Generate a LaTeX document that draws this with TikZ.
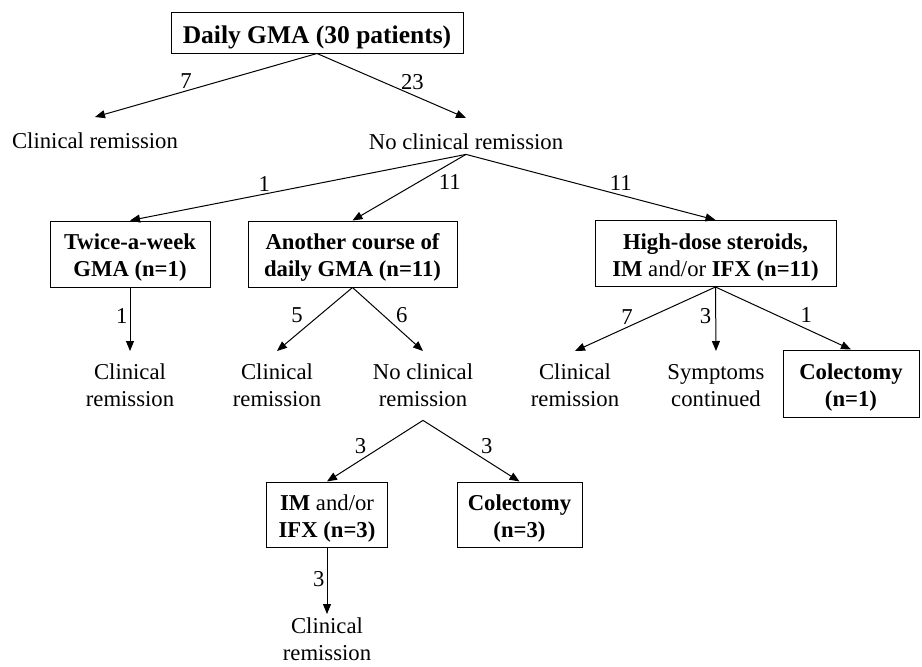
\documentclass[tikz,border=0pt]{standalone}
\usepackage{fontspec}
\setmainfont{Liberation Serif}
\usetikzlibrary{arrows.meta}
\usetikzlibrary{positioning}
\newcommand{\liftline}{\rule{0pt}{1.04em}}
\tikzset{%
  flowedge/.style={-{Triangle[length=10pt, width=8pt]}, line width=1pt},
  flowbox/.style={draw=black, line width=1pt, align=center, font=\bfseries, inner sep=0pt},
  flowtext/.style={align=center, inner xsep=0pt, inner ysep=13pt},
  flowline/.style={text height=26pt, text depth=0pt, inner xsep=0pt, inner ysep=5pt},
  numlabel/.style={inner sep=2pt}
}

\begin{document}
\begin{tikzpicture}[x=1pt, y=-1pt]
\fontsize{22.7}{27}\selectfont
\useasboundingbox (0,0) rectangle (922,667);

% boxes
\node [flowbox, minimum width=292pt, minimum height=41pt, font=\bfseries\fontsize{25.5}{30}\selectfont] (gma) at (317,32.5) {\liftline Daily GMA (30 patients)};
\node [flowbox, minimum width=160pt, minimum height=66pt] (twice) at (130,254) {\liftline Twice-a-week\\GMA (n=1)};
\node [flowbox, minimum width=209pt, minimum height=66pt] (course) at (352.5,254) {\liftline Another course of\\daily GMA (n=11)};
\node [flowbox, minimum width=241pt, minimum height=66pt] (steroid) at (715.5,253.5) {\liftline High-dose steroids,\\IM {\mdseries and/or} IFX (n=11)};
\node [flowbox, minimum width=121pt, minimum height=65pt] (imifx) at (327,514.5) {\liftline IM {\mdseries and/or}\\IFX (n=3)};
\node [flowbox, minimum width=125pt, minimum height=65pt] (colthree) at (519.5,514.5) {\liftline Colectomy\\(n=3)};
\node [flowbox, minimum width=136pt, minimum height=67pt] (colone) at (851,383.5) {\liftline Colectomy\\(n=1)};

% outcomes
\node [flowline, anchor=north] (remA) at (95,117) {Clinical remission};
\node [flowline, anchor=north] (noremA) at (466,118) {No clinical remission};
\node [flowtext, anchor=north] (remB) at (130,351) {Clinical\\remission};
\node [flowtext, anchor=north] (remC) at (277,351) {Clinical\\remission};
\node [flowtext, anchor=north] (noremB) at (423,351) {No clinical\\remission};
\node [flowtext, anchor=north, inner ysep=4pt] (remD) at (327,614) {Clinical\\remission};
\node [flowtext, anchor=north] (remE) at (575,351) {Clinical\\remission};
\node [flowtext, anchor=north] (symp) at (716,351) {Symptoms\\continued};

% edges with patient counts
\draw [flowedge] (gma.south) -- (remA.north) node [numlabel, pos=0.59, above] {7};
\draw [flowedge] (gma.south) -- (noremA.north) node [numlabel, pos=0.64, above=3pt] {23};

\draw [flowedge] (noremA.south) -- (twice.north) node [numlabel, pos=0.6, above] {1};
\draw [flowedge] (noremA.south) -- (course.north) node [numlabel, pos=0.42, right=18pt] {11};
\draw [flowedge] (noremA.south) -- (steroid.north) node [numlabel, pos=0.62, above=2pt] {11};

\draw [flowedge] (twice.south) -- (remB.north) node [numlabel, pos=0.45, left] {1};

\draw [flowedge] (course.south) -- (remC.north) node [numlabel, pos=0.44, left=14pt] {5};
\draw [flowedge] (course.south) -- (noremB.north) node [numlabel, pos=0.44, right=10pt] {6};

\draw [flowedge] (noremB.south) -- (imifx.north) node [numlabel, pos=0.42, left=14pt] {3};
\draw [flowedge] (noremB.south) -- (colthree.north) node [numlabel, pos=0.42, right=15pt] {3};

\draw [flowedge] (imifx.south) -- (remD.north) node [numlabel, pos=0.48, left] {3};

\draw [flowedge] (steroid.south) -- (remE.north) node [numlabel, pos=0.63, above] {7};
\draw [flowedge] (steroid.south) -- (symp.north) node [numlabel, pos=0.45, left=2pt] {3};
\draw [flowedge] (steroid.south) -- (colone.north) node [numlabel, pos=0.67, above=4pt] {1};

\end{tikzpicture}
\end{document}
